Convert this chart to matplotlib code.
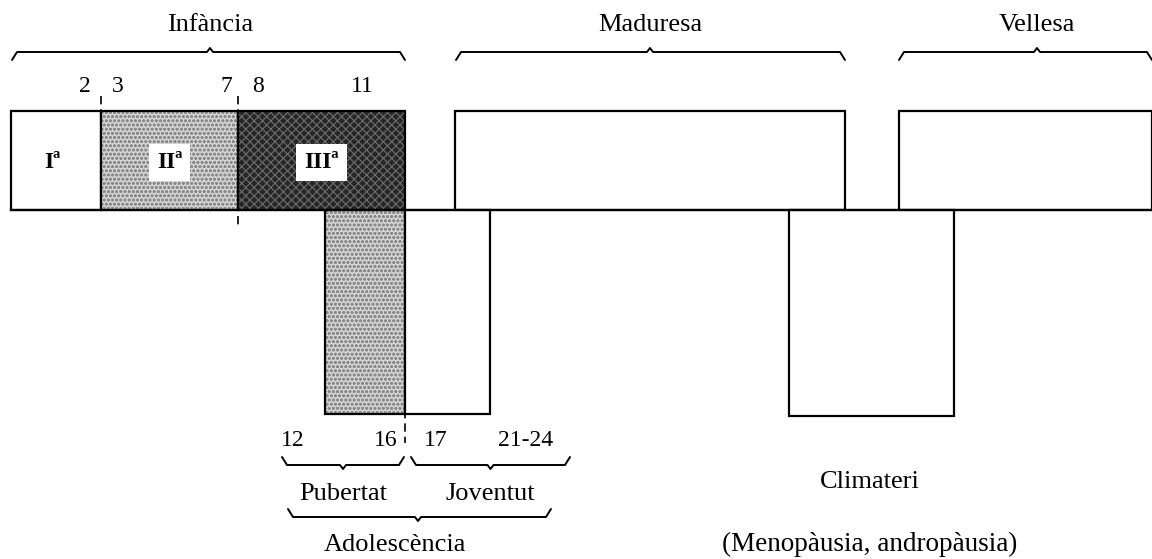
import matplotlib.pyplot as plt
from matplotlib.patches import Rectangle

plt.rcParams['font.family'] = ['Liberation Serif', 'DejaVu Serif']
plt.rcParams['hatch.linewidth'] = 0.8

# diagram is laid out in picture pixels (x right, y down), baseline at y=210
BASE = 210
TOP = 111

# upper bars (childhood stages, maturity, old age)
up_left = [11, 101, 238, 455, 899]
up_right = [101, 238, 405, 845, 1152]
up_fill = ['white', '#d4d4d4', '#262626', 'white', 'white']
up_hatch = ['', 'oooo', 'xxxx', '', '']
up_hcol = ['none', '#8a8a8a', '#6e6e6e', 'none', 'none']
up_label = ['Iª', 'IIª', 'IIIª', '', '']

# lower bars (puberty, youth, climacteric)
low_left = [325, 405, 789]
low_right = [405, 490, 954]
low_bottom = [414, 414, 416]
low_fill = ['#d4d4d4', 'white', 'white']
low_hatch = ['oooo', '', '']

# stage names over the braces
top_names = ['Infància', 'Maduresa', 'Vellesa']
top_from = [12, 456, 899]
top_to = [405, 845, 1152]
top_mid = [210, 650, 1037]

# ages above the childhood bars
age_top = ['2', '3', '7', '8', '11']
age_top_x = [85, 118, 226, 258, 362]

# ages below the adolescence bars
age_bot = ['12', '16', '17', '21-24']
age_bot_x = [293, 386, 436, 526]

low_names = ['Pubertat', 'Joventut']
low_from = [282, 411]
low_to = [404, 570]

dashed_x = [101, 238, 405]
dashed_y0 = [96, 96, 210]
dashed_y1 = [215, 225, 443]


def brace(ax, x0, x1, y, down=True, mid=None, h=8, lw=1.4):
    s = 1 if down else -1
    if mid is None:
        mid = (x0 + x1) / 2
    xs = [x0, x0 + 5, mid - 3, mid, mid + 3, x1 - 5, x1]
    ys = [y + s * h, y, y, y - s * 4, y, y, y + s * h]
    ax.plot(xs, ys, color='black', lw=lw, solid_capstyle='round')


fig = plt.figure(figsize=(11.52, 5.59), dpi=100)
ax = fig.add_axes([0, 0, 1, 1])
ax.set_xlim(0, 1152)
ax.set_ylim(559, 0)
ax.axis('off')

# baseline
ax.plot([11, 1152], [BASE, BASE], color='black', lw=1.6)

for l, r, c, hs, hc, t in zip(up_left, up_right, up_fill, up_hatch, up_hcol, up_label):
    ax.add_patch(Rectangle((l, TOP), r - l, BASE - TOP, facecolor=c,
                           edgecolor='none'))
    if hs:
        ax.add_patch(Rectangle((l, TOP), r - l, BASE - TOP, facecolor='none',
                               edgecolor=hc, hatch=hs, lw=0))
    ax.add_patch(Rectangle((l, TOP), r - l, BASE - TOP, facecolor='none',
                           edgecolor='black', lw=1.6))
    if t:
        bb = None if c == 'white' else dict(facecolor='white', edgecolor='none', pad=6)
        ax.text((l + r) / 2 - (4 if t == 'Iª' else 0), (TOP + BASE) / 2 + 2, t,
                ha='center', va='center', fontsize=17, fontweight='bold', bbox=bb)

for l, r, b, c, hs in zip(low_left, low_right, low_bottom, low_fill, low_hatch):
    ax.add_patch(Rectangle((l, BASE), r - l, b - BASE, facecolor=c,
                           edgecolor='none'))
    if hs:
        ax.add_patch(Rectangle((l, BASE), r - l, b - BASE, facecolor='none',
                               edgecolor='#8a8a8a', hatch=hs, lw=0))
    ax.add_patch(Rectangle((l, BASE), r - l, b - BASE, facecolor='none',
                           edgecolor='black', lw=1.6))

for x, y0, y1 in zip(dashed_x, dashed_y0, dashed_y1):
    ax.plot([x, x], [y0, y1], color='black', lw=1.2, ls=(0, (5, 3)))

for name, a, b, m in zip(top_names, top_from, top_to, top_mid):
    ax.text(m, 25, name, ha='center', va='center', fontsize=19)
    brace(ax, a, b, 52, down=True, mid=m)

for t, x in zip(age_top, age_top_x):
    ax.text(x, 86, t, ha='center', va='center', fontsize=17)

for t, x in zip(age_bot, age_bot_x):
    ax.text(x, 440, t, ha='center', va='center', fontsize=17)

for name, a, b in zip(low_names, low_from, low_to):
    brace(ax, a, b, 465, down=False)
    ax.text((a + b) / 2, 494, name, ha='center', va='center', fontsize=19)

brace(ax, 288, 551, 517, down=False, mid=418)
ax.text(395, 545, 'Adolescència', ha='center', va='center', fontsize=19)

ax.text(870, 482, 'Climateri', ha='center', va='center', fontsize=19)
ax.text(870, 544, '(Menopàusia, andropàusia)', ha='center', va='center',
        fontsize=19.5)

fig.savefig('out.png', dpi=100)
